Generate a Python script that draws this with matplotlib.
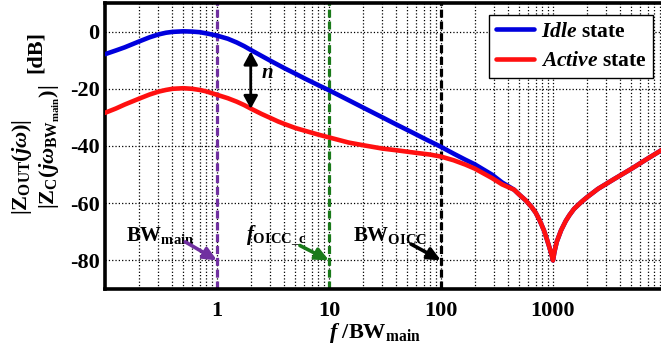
import matplotlib
matplotlib.use('Agg')
import matplotlib.pyplot as plt
import numpy as np

plt.rcParams['font.family'] = 'Liberation Serif'
plt.rcParams['font.weight'] = 'bold'
plt.rcParams['mathtext.fontset'] = 'custom'
plt.rcParams['mathtext.rm'] = 'Liberation Serif:bold'
plt.rcParams['mathtext.bf'] = 'Liberation Serif:bold'
plt.rcParams['mathtext.it'] = 'Liberation Serif:italic:bold'

# values (f / BW_main, dB)
idle_f  = [0.1, 0.125, 0.15, 0.2, 0.25, 0.3, 0.35, 0.4, 0.5, 0.6, 0.7, 0.8, 1.0,
           1.25, 1.5, 1.75, 2.0, 2.5, 3, 4, 5, 6, 8, 10,
           15, 20, 30, 40, 55, 70, 100, 130, 165, 200, 285, 350]
idle_db = [-7.9, -6.6, -5.5, -3.5, -2.0, -1.0, -0.4, -0.1, 0.1, 0.0, -0.2, -0.6, -1.4,
           -2.5, -3.8, -5.1, -6.4, -8.5, -10.2, -12.8, -14.7, -16.3, -18.7, -20.5,
           -24.0, -26.5, -30.0, -32.5, -35.2, -37.3, -40.3, -42.7, -44.8, -46.4, -50.0, -52.7]

active_f  = [0.1, 0.125, 0.15, 0.2, 0.25, 0.3, 0.35, 0.4, 0.5, 0.6, 0.7, 0.8, 1.0,
             1.25, 1.5, 1.75, 2.0, 2.5, 3, 3.5, 4, 5, 6, 8, 10,
             15, 20, 30, 42, 60, 80, 100, 130, 165, 200, 285, 350, 450, 500, 570, 640,
             700, 760, 830, 880, 930, 970, 1000, 1030, 1080, 1180, 1300, 1400, 1540,
             1800, 2000, 2520, 3500, 5000, 7000, 10000]
active_db = [-28.4, -26.9, -25.5, -23.5, -22.0, -21.0, -20.4, -20.0, -19.8, -20.0, -20.4, -20.9, -22.1,
             -23.3, -24.5, -25.7, -26.9, -28.8, -30.2, -31.4, -32.3, -33.7, -34.6, -36.0, -37.0,
             -38.8, -39.7, -40.9, -41.6, -42.4, -43.0, -43.7, -45.0, -46.5, -47.9, -51.2, -53.4, -55.3, -57.0, -59.0, -61.2,
             -63.3, -66.0, -69.5, -72.5, -75.5, -78.0, -80.0, -77.0, -73.5, -69.5, -66.2, -64.2, -62.0,
             -59.5, -58.0, -55.0, -51.6, -48.0, -44.4, -40.7]

# idle curve lies under the active one past the merge point
idle_f_full = idle_f + [f for f in active_f if f > 350]
idle_db_full = idle_db + [d for f, d in zip(active_f, active_db) if f > 350]

marker_f = [1, 10, 100]
marker_colors = ['#7030a0', '#1a7a1a', 'black']
marker_labels = [r'BW$_{\mathrm{main}}$', r'$f_{\mathrm{OICC\_c}}$', r'BW$_{\mathrm{OICC}}$']
label_f = [0.31, 3.4, 35]
tail_f = [0.52, 5.5, 54]
tail_db = [-73.5, -74.8, -74.3]

n_f = 2
n_top, n_bot = -7.0, -27.0

fig = plt.figure(figsize=(6.61, 3.49), dpi=100)
ax = fig.add_axes([105/661, 1-289/349, 560/661, 286/349])

ax.plot(idle_f_full, idle_db_full, color='#0000dd', lw=3.3, solid_capstyle='round', label=r'$Idle$ state', zorder=3)
ax.plot(active_f, active_db, color='#ff1010', lw=3.3, solid_capstyle='round', label=r'$Active$ state', zorder=4)

for f, c, lab, lf, tf, td in zip(marker_f, marker_colors, marker_labels, label_f, tail_f, tail_db):
    ax.axvline(f, color=c, ls=(0, (2.5, 1.2)), lw=2.3, zorder=2)
    ax.text(lf, -71.3, lab, color='black', fontsize=15, ha='center', va='center')
    ax.annotate('', xy=(f, -80), xytext=(tf, td),
                arrowprops=dict(arrowstyle='-|>,head_length=0.55,head_width=0.25', color=c, lw=2.6,
                                mutation_scale=14, shrinkA=0, shrinkB=0),
                zorder=5)

ax.annotate('', xy=(n_f, n_top), xytext=(n_f, n_bot),
            arrowprops=dict(arrowstyle='<|-|>,head_length=0.55,head_width=0.3', color='black', lw=2.0,
                            mutation_scale=14, shrinkA=0, shrinkB=0),
            zorder=5)
ax.text(2.8, -14.5, r'$n$', fontsize=15, ha='center', va='center')

ax.set_xscale('log')
ax.set_xlim(0.1, 10000)
ax.set_ylim(-90, 10)
ax.set_xticks([1, 10, 100, 1000])
ax.set_xticklabels(['1', '10', '100', '1000'])
ax.set_yticks([0, -20, -40, -60, -80])
ax.set_yticklabels(['0', '-20', '-40', '-60', '-80'])
ax.tick_params(axis='both', which='both', direction='in', length=0, labelsize=16)
ax.tick_params(axis='x', pad=9)
ax.tick_params(axis='y', pad=4)
ax.grid(True, which='major', axis='both', color='black', ls=':', lw=0.9)
ax.grid(True, which='minor', axis='x', color='black', ls=':', lw=0.9)
for s in ax.spines.values():
    s.set_linewidth(2.6)

fig.text(375/661, 1-333/349, r'$f$ /BW$_{\mathrm{main}}$', fontsize=16, ha='center', va='center')

fig.text(22/661, 1-167/349, r'$|$Z$_{\mathrm{OUT}}(j\omega)|$', rotation=90, fontsize=16, ha='center', va='center')
fig.text(50/661, 1-147/349, r'$|$Z$_{\mathrm{C}}(j\omega_{\mathrm{BW_{main}}})|$', rotation=90, fontsize=16, ha='center', va='center')
fig.text(36/661, 1-52/349, '[dB]', rotation=90, fontsize=16, ha='center', va='center')

leg = ax.legend(loc='upper right', bbox_to_anchor=(0.979, 0.958), fontsize=15.5, frameon=True, fancybox=False,
                handlelength=1.8, borderpad=0.3, labelspacing=0.45, handletextpad=0.3, borderaxespad=0)
leg.get_frame().set_edgecolor('black')
leg.get_frame().set_linewidth(1.0)
leg.get_frame().set_alpha(1)

fig.savefig('out.png', dpi=100)
